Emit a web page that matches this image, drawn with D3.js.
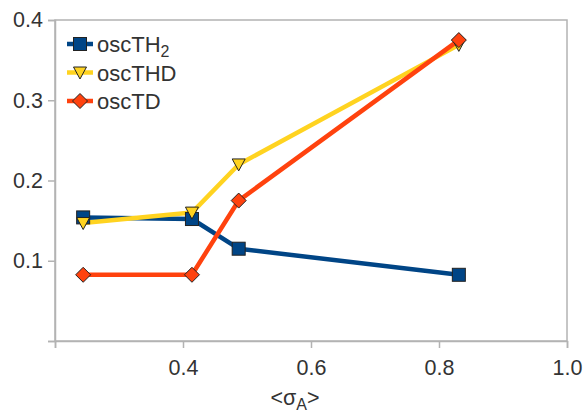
<!DOCTYPE html>
<html><head><meta charset="utf-8">
<script src="https://cdn.jsdelivr.net/npm/d3@7"></script>
<style>body{margin:0;background:#fff;} text{font-family:"Liberation Sans",Arial,sans-serif;fill:#333;}</style>
</head><body>
<svg id="c" width="583" height="412"></svg>
<script>
const xValues = [0.244, 0.414, 0.487, 0.831];
const seriesNames = ["oscTH2", "oscTHD", "oscTD"];
const th2 = [0.154, 0.152, 0.115, 0.0825];
const thd = [0.147, 0.160, 0.220, 0.369];
const td = [0.0825, 0.0825, 0.175, 0.375];
const xTicks = [0.2, 0.4, 0.6, 0.8, 1.0];
const yTicks = [0, 0.1, 0.2, 0.3, 0.4];
const colors = ["#004586", "#ffd320", "#ff420e"];
const shapes = ["square", "triangle", "diamond"];

const svg = d3.select("#c");
const L = 55, R = 567, T = 20, B = 341;
const x = d3.scaleLinear().domain([0.2, 1.0]).range([L, R]);
const y = d3.scaleLinear().domain([0, 0.4]).range([B, T]);
const axisCol = "#b3b3b3";

svg.append("rect").attr("x", L).attr("y", T).attr("width", R - L).attr("height", B - T)
  .attr("fill", "none").attr("stroke", axisCol).attr("stroke-width", 1.5);

const xa = svg.append("g").attr("transform", `translate(0,${B})`)
  .call(d3.axisBottom(x).tickValues(xTicks).tickSize(7).tickPadding(12)
    .tickFormat(d => d === 0.2 ? "" : d3.format(".1f")(d)));
const ya = svg.append("g").attr("transform", `translate(${L},0)`)
  .call(d3.axisLeft(y).tickValues(yTicks).tickSize(7).tickPadding(5)
    .tickFormat(d => d === 0 ? "" : d3.format(".1f")(d)));
[xa, ya].forEach(a => {
  a.select(".domain").attr("stroke", axisCol).attr("stroke-width", 1.5);
  a.selectAll(".tick line").attr("stroke", axisCol).attr("stroke-width", 1.5);
  a.selectAll(".tick text").attr("font-size", 21.5).style("fill", "#333")
    .attr("font-family", "Liberation Sans, Arial, sans-serif");
});

const title = svg.append("text").attr("x", 295).attr("y", 405).attr("text-anchor", "middle").attr("font-size", 21.5);
title.append("tspan").text("<σ");
title.append("tspan").attr("font-size", 16).attr("dy", 5).text("A");
title.append("tspan").attr("dy", -5).text(">");

function marker(g, shape, cx, cy, col, s) {
  s = s || 6;
  if (shape === "square") {
    g.append("rect").attr("x", cx - s).attr("y", cy - s).attr("width", 2 * s).attr("height", 2 * s)
      .attr("fill", col).attr("stroke", "#222").attr("stroke-width", 1);
  } else if (shape === "triangle") {
    g.append("path").attr("d", `M${cx - s},${cy - s + 1}L${cx + s},${cy - s + 1}L${cx},${cy + s}Z`)
      .attr("fill", col).attr("stroke", "#222").attr("stroke-width", 1);
  } else {
    const d = s + 1;
    g.append("path").attr("d", `M${cx},${cy - d}L${cx + d},${cy}L${cx},${cy + d}L${cx - d},${cy}Z`)
      .attr("fill", col).attr("stroke", "#222").attr("stroke-width", 1);
  }
}

const data = [th2, thd, td];
const line = d3.line().x((d, i) => x(xValues[i])).y(d => y(d));
data.forEach((s, k) => {
  svg.append("path").datum(s).attr("d", line).attr("fill", "none")
    .attr("stroke", colors[k]).attr("stroke-width", 4.5).attr("stroke-linejoin", "round");
});
data.forEach((s, k) => {
  const g = svg.append("g");
  s.forEach((v, i) => marker(g, shapes[k], x(xValues[i]), y(v), colors[k], 6.5));
});

const lg = svg.append("g");
seriesNames.forEach((n, k) => {
  const ly = 44 + k * 28.5;
  lg.append("line").attr("x1", 67).attr("x2", 93).attr("y1", ly).attr("y2", ly)
    .attr("stroke", colors[k]).attr("stroke-width", 4.5);
  marker(lg, shapes[k], 80, ly, colors[k], 6.5);
  const t = lg.append("text").attr("x", 97).attr("y", ly + 8).attr("font-size", 22);
  if (n === "oscTH2") {
    t.append("tspan").text("oscTH");
    t.append("tspan").attr("font-size", 16).attr("dy", 5).text("2");
  } else t.text(n);
});
</script>
</body></html>
